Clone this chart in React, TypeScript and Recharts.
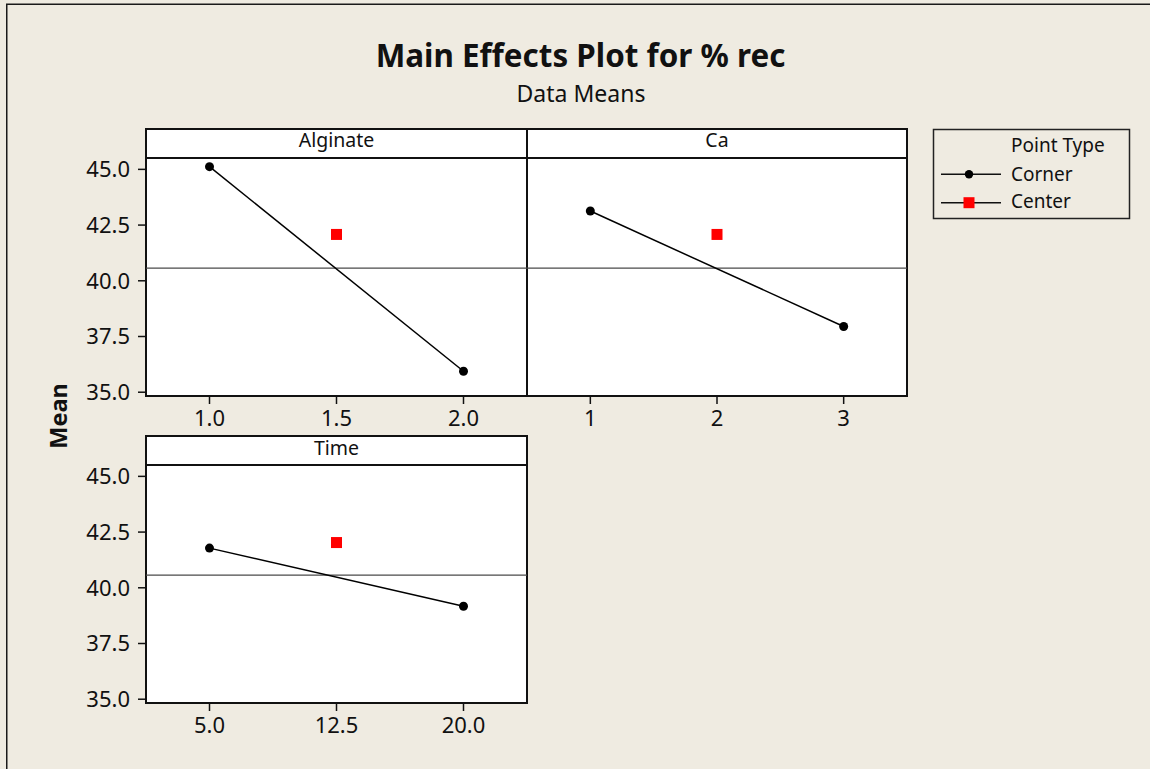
import React from 'react';
import { ComposedChart, Line, Scatter, XAxis, YAxis, ReferenceLine } from 'recharts';

// ---- data ----
const alginateLevels = [1.0, 2.0];
const alginateCornerMeans = [45.12, 35.94];
const alginateCenterLevel = [1.5];
const alginateCenterMean = [42.08];

const caLevels = [1, 3];
const caCornerMeans = [43.13, 37.95];
const caCenterLevel = [2];
const caCenterMean = [42.08];

const timeLevels = [5.0, 20.0];
const timeCornerMeans = [41.78, 39.17];
const timeCenterLevel = [12.5];
const timeCenterMean = [42.03];

const grandMean = 40.57;
const yTicks = [35.0, 37.5, 40.0, 42.5, 45.0];
const alginateTicks = [1.0, 1.5, 2.0];
const caTicks = [1, 2, 3];
const timeTicks = [5.0, 12.5, 20.0];

const panelTitles = ['Alginate', 'Ca', 'Time'];
const legendTitle = 'Point Type';
const seriesNames = ['Corner', 'Center'];

const BG = '#EFEBE1';
const FONT = '"Noto Sans", Tahoma, sans-serif';

const toPts = (xs: number[], ys: number[]) => xs.map((x, i) => ({ x, y: ys[i] }));

const Square = (props: any) => {
  const { cx, cy } = props;
  if (cx == null || cy == null) return null;
  return <rect x={cx - 5.5} y={cy - 5.5} width={11} height={11} fill="#FF0000" />;
};

type PanelProps = {
  plotLeft: number;
  plotTop: number;
  plotW: number;
  plotH: number;
  xDomain: [number, number];
  xTicks: number[];
  xFmt: (v: number) => string;
  corner: { x: number; y: number }[];
  center: { x: number; y: number }[];
  showY: boolean;
};

function Panel(p: PanelProps) {
  const yW = 90;
  const xH = 40;
  const mr = 10;
  const mt = 20;
  const W = yW + p.plotW + mr;
  const H = mt + p.plotH + xH;
  return (
    <div style={{ position: 'absolute', left: p.plotLeft - yW, top: p.plotTop - mt, width: W, height: H }}>
      <ComposedChart width={W} height={H} margin={{ top: mt, right: mr, bottom: 0, left: 0 }}>
        <XAxis
          type="number"
          dataKey="x"
          domain={p.xDomain}
          ticks={p.xTicks}
          interval={0}
          tickFormatter={p.xFmt}
          axisLine={false}
          tickSize={8}
          tickMargin={6}
          height={xH}
          tickLine={{ stroke: '#111', strokeWidth: 1.5 }}
          tick={{ fill: '#111', fontSize: 22, fontFamily: FONT }}
          allowDataOverflow
        />
        <YAxis
          type="number"
          dataKey="y"
          domain={[34.83, 45.51]}
          ticks={yTicks}
          interval={0}
          width={yW}
          tickFormatter={(v: number) => v.toFixed(1)}
          axisLine={false}
          tickSize={8}
          tickMargin={8}
          tickLine={p.showY ? { stroke: '#111', strokeWidth: 1.5 } : false}
          tick={p.showY ? { fill: '#111', fontSize: 22, fontFamily: FONT } : false}
          allowDataOverflow
        />
        <ReferenceLine y={grandMean} stroke="#4a4a4a" strokeWidth={1.3} />
        <Line
          data={p.corner}
          dataKey="y"
          type="linear"
          stroke="#000"
          strokeWidth={1.5}
          dot={{ r: 4.5, fill: '#000', stroke: '#000', strokeWidth: 0 }}
          activeDot={false}
          isAnimationActive={false}
        />
        <Scatter data={p.center} dataKey="y" fill="#FF0000" shape={<Square />} isAnimationActive={false} />
      </ComposedChart>
    </div>
  );
}

export default function App() {
  const f1 = (v: number) => v.toFixed(1);
  const f0 = (v: number) => v.toFixed(0);
  const frame = { fill: '#fff', stroke: '#111', strokeWidth: 2 };
  return (
    <div style={{ position: 'absolute', left: 0, top: 0, width: 1150, height: 769, overflow: 'hidden', background: BG }}>
      <svg width={1150} height={769} style={{ position: 'absolute', left: 0, top: 0 }}>
        <path d="M6.75 769 V4.25 H1150" stroke="#1a1a1a" strokeWidth={1.5} fill="none" />
        <text x={580.5} y={67} textAnchor="middle" fontFamily={FONT} fontWeight="bold" fontSize={31.4} fill="#111">
          Main Effects Plot for % rec
        </text>
        <text x={581} y={101.5} textAnchor="middle" fontFamily={FONT} fontSize={23} fill="#111">
          Data Means
        </text>
        <text x={67} y={416} transform="rotate(-90 67 416)" textAnchor="middle" fontFamily={FONT} fontWeight="bold" fontSize={23.5} fill="#111">
          Mean
        </text>

        {/* Alginate */}
        <rect x={146} y={129} width={381} height={29} {...frame} />
        <rect x={146} y={158} width={381} height={238} {...frame} />
        <text x={336.5} y={147.3} textAnchor="middle" fontFamily={FONT} fontSize={19.5} fill="#111">{panelTitles[0]}</text>
        {/* Ca */}
        <rect x={527} y={129} width={380} height={29} {...frame} />
        <rect x={527} y={158} width={380} height={238} {...frame} />
        <text x={717} y={147.3} textAnchor="middle" fontFamily={FONT} fontSize={19.5} fill="#111">{panelTitles[1]}</text>
        {/* Time */}
        <rect x={146} y={436} width={381} height={29} {...frame} />
        <rect x={146} y={465} width={381} height={238} {...frame} />
        <text x={336.5} y={455} textAnchor="middle" fontFamily={FONT} fontSize={19.5} fill="#111">{panelTitles[2]}</text>

        {/* Legend */}
        <rect x={933.5} y={129.5} width={196} height={89} fill="none" stroke="#222" strokeWidth={1.5} />
        <text x={1011} y={151.7} fontFamily={FONT} fontSize={19} fill="#111">{legendTitle}</text>
        <line x1={941} x2={1001} y1={174.3} y2={174.3} stroke="#111" strokeWidth={1.5} />
        <circle cx={969} cy={174.3} r={4.2} fill="#000" />
        <text x={1011} y={181} fontFamily={FONT} fontSize={19} fill="#111">{seriesNames[0]}</text>
        <line x1={941} x2={1001} y1={202.7} y2={202.7} stroke="#111" strokeWidth={1.5} />
        <rect x={963.5} y={197.2} width={11} height={11} fill="#FF0000" />
        <text x={1011} y={208.3} fontFamily={FONT} fontSize={19} fill="#111">{seriesNames[1]}</text>
      </svg>

      <Panel
        plotLeft={146}
        plotTop={158}
        plotW={381}
        plotH={238}
        xDomain={[0.75, 2.25]}
        xTicks={alginateTicks}
        xFmt={f1}
        corner={toPts(alginateLevels, alginateCornerMeans)}
        center={toPts(alginateCenterLevel, alginateCenterMean)}
        showY={true}
      />
      <Panel
        plotLeft={527}
        plotTop={158}
        plotW={380}
        plotH={238}
        xDomain={[0.5, 3.5]}
        xTicks={caTicks}
        xFmt={f0}
        corner={toPts(caLevels, caCornerMeans)}
        center={toPts(caCenterLevel, caCenterMean)}
        showY={false}
      />
      <Panel
        plotLeft={146}
        plotTop={465}
        plotW={381}
        plotH={238}
        xDomain={[1.25, 23.75]}
        xTicks={timeTicks}
        xFmt={f1}
        corner={toPts(timeLevels, timeCornerMeans)}
        center={toPts(timeCenterLevel, timeCenterMean)}
        showY={true}
      />
    </div>
  );
}
